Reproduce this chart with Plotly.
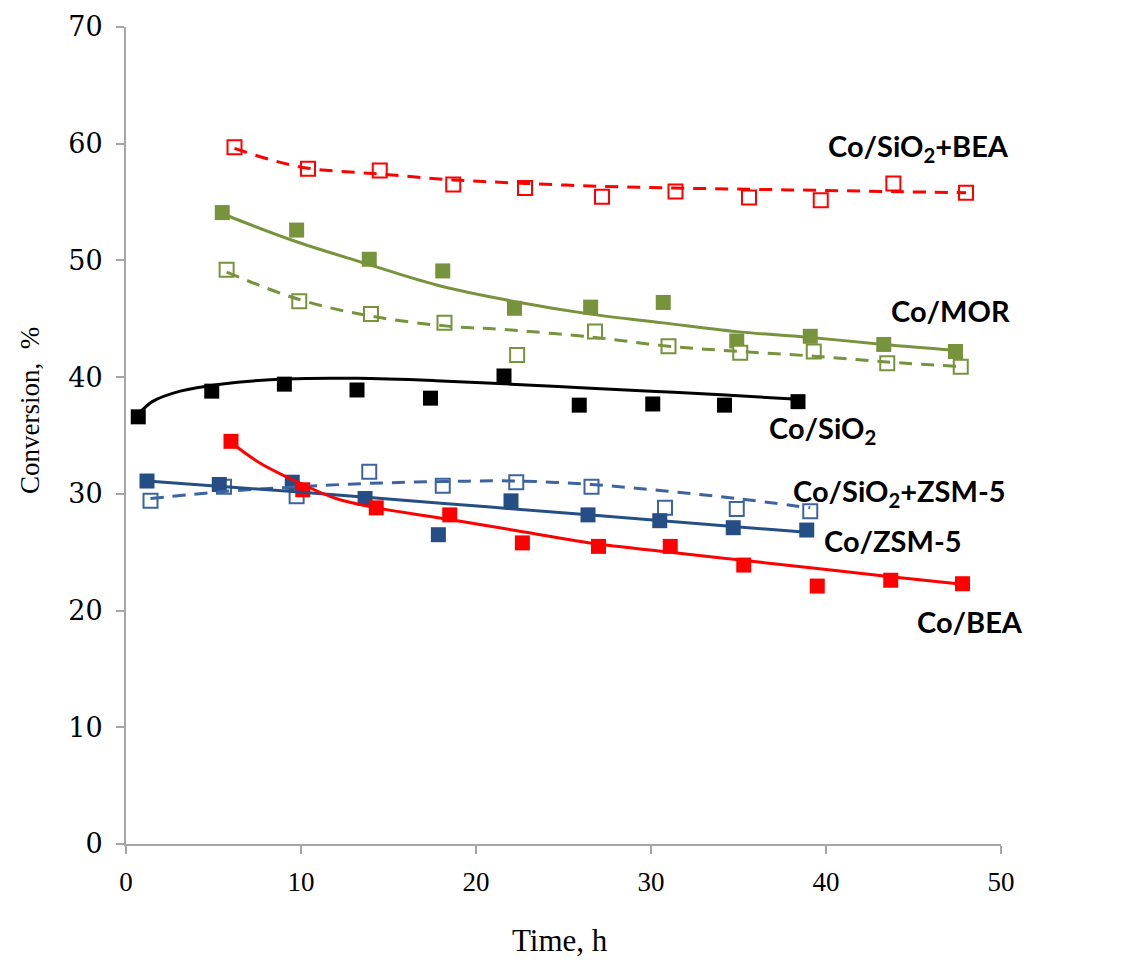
import plotly.graph_objects as go

# ---------------- data ----------------
# Co/SiO2 (black, filled)
t_sio2 = [0.7, 4.9, 9.05, 13.2, 17.4, 21.6, 25.9, 30.1, 34.2, 38.4]
c_sio2 = [36.6, 38.8, 39.4, 38.9, 38.2, 40.1, 37.6, 37.7, 37.6, 37.9]
trend_t_sio2 = [0.7, 1.5, 3.1, 5.4, 9.2, 13.2, 17.7, 22.0, 26.0, 30.0, 34.0, 38.4]
trend_c_sio2 = [36.8, 37.9, 38.8, 39.4, 39.85, 39.9, 39.7, 39.4, 39.1, 38.8, 38.5, 38.1]

# Co/MOR (green, filled)
t_mor = [5.5, 9.75, 13.9, 18.1, 22.2, 26.55, 30.7, 34.9, 39.1, 43.3, 47.4]
c_mor = [54.1, 52.6, 50.1, 49.1, 45.9, 46.0, 46.4, 43.1, 43.5, 42.8, 42.2]
trend_t_mor = [5.5, 9.75, 13.56, 17.75, 22.5, 26.55, 30.7, 34.9, 39.1, 43.3, 47.4]
trend_c_mor = [54.0, 51.6, 49.8, 47.9, 46.4, 45.4, 44.65, 43.9, 43.4, 42.8, 42.3]

# Co/SiO2+MOR (green, open)
t_sio2_mor = [5.75, 9.9, 14.0, 18.2, 22.35, 26.8, 31.0, 35.1, 39.3, 43.5, 47.7]
c_sio2_mor = [49.2, 46.5, 45.4, 44.65, 41.9, 43.9, 42.65, 42.1, 42.2, 41.2, 40.9]
trend_t_sio2_mor = [5.75, 9.9, 14.1, 18.5, 21.4, 26.8, 31.0, 35.1, 39.3, 43.5, 47.7]
trend_c_sio2_mor = [49.0, 46.65, 45.2, 44.35, 44.1, 43.4, 42.65, 42.2, 41.8, 41.3, 40.9]

# Co/SiO2+BEA (red, open)
t_sio2_bea = [6.2, 10.4, 14.5, 18.7, 22.8, 27.2, 31.4, 35.6, 39.7, 43.85, 48.0]
c_sio2_bea = [59.7, 57.85, 57.7, 56.5, 56.2, 55.45, 55.9, 55.4, 55.15, 56.6, 55.8]
trend_t_sio2_bea = [6.2, 8.2, 10.4, 14.5, 18.7, 22.8, 27.2, 31.4, 35.6, 39.7, 43.85, 48.0]
trend_c_sio2_bea = [59.6, 58.65, 57.9, 57.4, 56.9, 56.6, 56.35, 56.2, 56.1, 56.0, 55.9, 55.8]

# Co/BEA (red, filled)
t_bea = [6.0, 10.1, 14.3, 18.5, 22.65, 27.0, 31.1, 35.3, 39.5, 43.7, 47.8]
c_bea = [34.5, 30.35, 28.8, 28.2, 25.8, 25.5, 25.5, 23.9, 22.1, 22.6, 22.3]
trend_t_bea = [6.0, 7.7, 10.1, 12.0, 14.3, 18.5, 22.5, 27.0, 31.1, 35.3, 39.5, 43.7, 47.8]
trend_c_bea = [34.4, 32.6, 30.8, 29.6, 28.8, 27.8, 26.8, 25.7, 25.0, 24.3, 23.6, 22.9, 22.25]

# Co/ZSM-5 (blue, filled)
t_zsm = [1.2, 5.33, 9.5, 13.66, 17.85, 22.0, 26.4, 30.5, 34.7, 38.9]
c_zsm = [31.1, 30.8, 31.0, 29.6, 26.5, 29.4, 28.2, 27.7, 27.1, 26.9]
trend_t_zsm = [1.2, 9.5, 18.0, 26.4, 38.9]
trend_c_zsm = [31.1, 30.2, 29.2, 28.2, 26.7]

# Co/SiO2+ZSM-5 (blue, open)
t_sio2_zsm = [1.4, 5.6, 9.75, 13.9, 18.1, 22.3, 26.6, 30.8, 34.9, 39.1]
c_sio2_zsm = [29.4, 30.6, 29.8, 31.9, 30.7, 31.0, 30.6, 28.8, 28.7, 28.5]
trend_t_sio2_zsm = [1.4, 5.6, 9.75, 13.9, 18.1, 22.3, 26.6, 30.8, 34.9, 39.1]
trend_c_sio2_zsm = [29.6, 30.2, 30.6, 30.9, 31.05, 31.1, 30.8, 30.25, 29.6, 28.8]

x_ticks = [0, 10, 20, 30, 40, 50]
y_ticks = [0, 10, 20, 30, 40, 50, 60, 70]

# ---------------- styles ----------------
RED = "#FF0000"
GREEN = "#77933C"
BLACK = "#000000"
BLUE = "#254E85"
BLUE_OPEN = "#3C64A0"
SERIF = "Liberation Serif, 'Times New Roman', serif"
WIDE_SERIF = "DejaVu Serif, Liberation Serif, serif"

series = [
    # (t, c, trend_t, trend_c, color, filled, dashed)
    (t_sio2_bea, c_sio2_bea, trend_t_sio2_bea, trend_c_sio2_bea, RED, False, True),
    (t_mor, c_mor, trend_t_mor, trend_c_mor, GREEN, True, False),
    (t_sio2_mor, c_sio2_mor, trend_t_sio2_mor, trend_c_sio2_mor, GREEN, False, True),
    (t_sio2, c_sio2, trend_t_sio2, trend_c_sio2, BLACK, True, False),
    (t_sio2_zsm, c_sio2_zsm, trend_t_sio2_zsm, trend_c_sio2_zsm, BLUE_OPEN, False, True),
    (t_zsm, c_zsm, trend_t_zsm, trend_c_zsm, BLUE, True, False),
    (t_bea, c_bea, trend_t_bea, trend_c_bea, RED, True, False),
]

fig = go.Figure()

# markers first
for t, c, tt, tc, col, filled, dashed in series:
    if filled:
        marker = dict(symbol="square", size=15, color=col, line=dict(width=0))
    else:
        marker = dict(symbol="square", size=14, color="white",
                      line=dict(width=2, color=col))
    fig.add_trace(go.Scatter(x=t, y=c, mode="markers", marker=marker,
                             showlegend=False, hoverinfo="x+y", cliponaxis=False))

# trend lines on top
for t, c, tt, tc, col, filled, dashed in series:
    fig.add_trace(go.Scatter(
        x=tt, y=tc, mode="lines",
        line=dict(color=col, width=3, shape="spline", smoothing=1.0,
                  dash="13px,9px" if dashed else "solid"),
        showlegend=False, hoverinfo="skip"))

# labels
lab_font = dict(family="Lato, 'Open Sans', sans-serif", size=29, color="black")
labels = [
    ("<b>Co/SiO<sub>2</sub>+BEA</b>", 45.3, 59.7),
    ("<b>Co/MOR</b>", 47.1, 45.7),
    ("<b>Co/SiO<sub>2</sub>+MOR</b>", 51.8, 38.7),
    ("<b>Co/SiO<sub>2</sub></b>", 39.8, 35.5),
    ("<b>Co/SiO<sub>2</sub>+ZSM-5</b>", 44.2, 30.1),
    ("<b>Co/ZSM-5</b>", 43.8, 26.0),
    ("<b>Co/BEA</b>", 48.2, 19.1),
]
for txt, x, y in labels:
    fig.add_annotation(x=x, y=y, xref="x", yref="y", text=txt, showarrow=False,
                       xanchor="center", yanchor="middle", font=lab_font)

# axis titles (placed as in the reference)
fig.add_annotation(text="Time, h", xref="paper", yref="paper", x=0.496, y=-0.118,
                   xanchor="center", yanchor="middle", showarrow=False,
                   font=dict(family=SERIF, size=31, color="black"))
fig.add_annotation(text="Conversion,  %", xref="paper", yref="paper", x=-0.110, y=0.531,
                   xanchor="center", yanchor="middle", showarrow=False, textangle=-90,
                   font=dict(family=SERIF, size=27, color="black"))

axis_common = dict(
    showline=True, linecolor="#A6A6A6", linewidth=2,
    ticks="outside", tickcolor="#A6A6A6", ticklen=8, tickwidth=2,
    showgrid=False, zeroline=False, automargin=False,
)

# the page body adds an 8 px offset, so the margins compensate for it
fig.update_layout(
    width=1134, height=963,
    margin=dict(l=118, r=141, t=19, b=127),
    paper_bgcolor="white", plot_bgcolor="white",
    xaxis=dict(range=[0, 50], tickvals=x_ticks, ticktext=[str(v) for v in x_ticks],
               tickfont=dict(family=SERIF, size=27, color="black"),
               ticklabelstandoff=5, **axis_common),
    yaxis=dict(range=[0, 70], tickvals=y_ticks, ticktext=[str(v) for v in y_ticks],
               tickfont=dict(family=WIDE_SERIF, size=27, color="black"),
               ticklabelstandoff=8, **axis_common),
)

fig.write_html("out.html")
